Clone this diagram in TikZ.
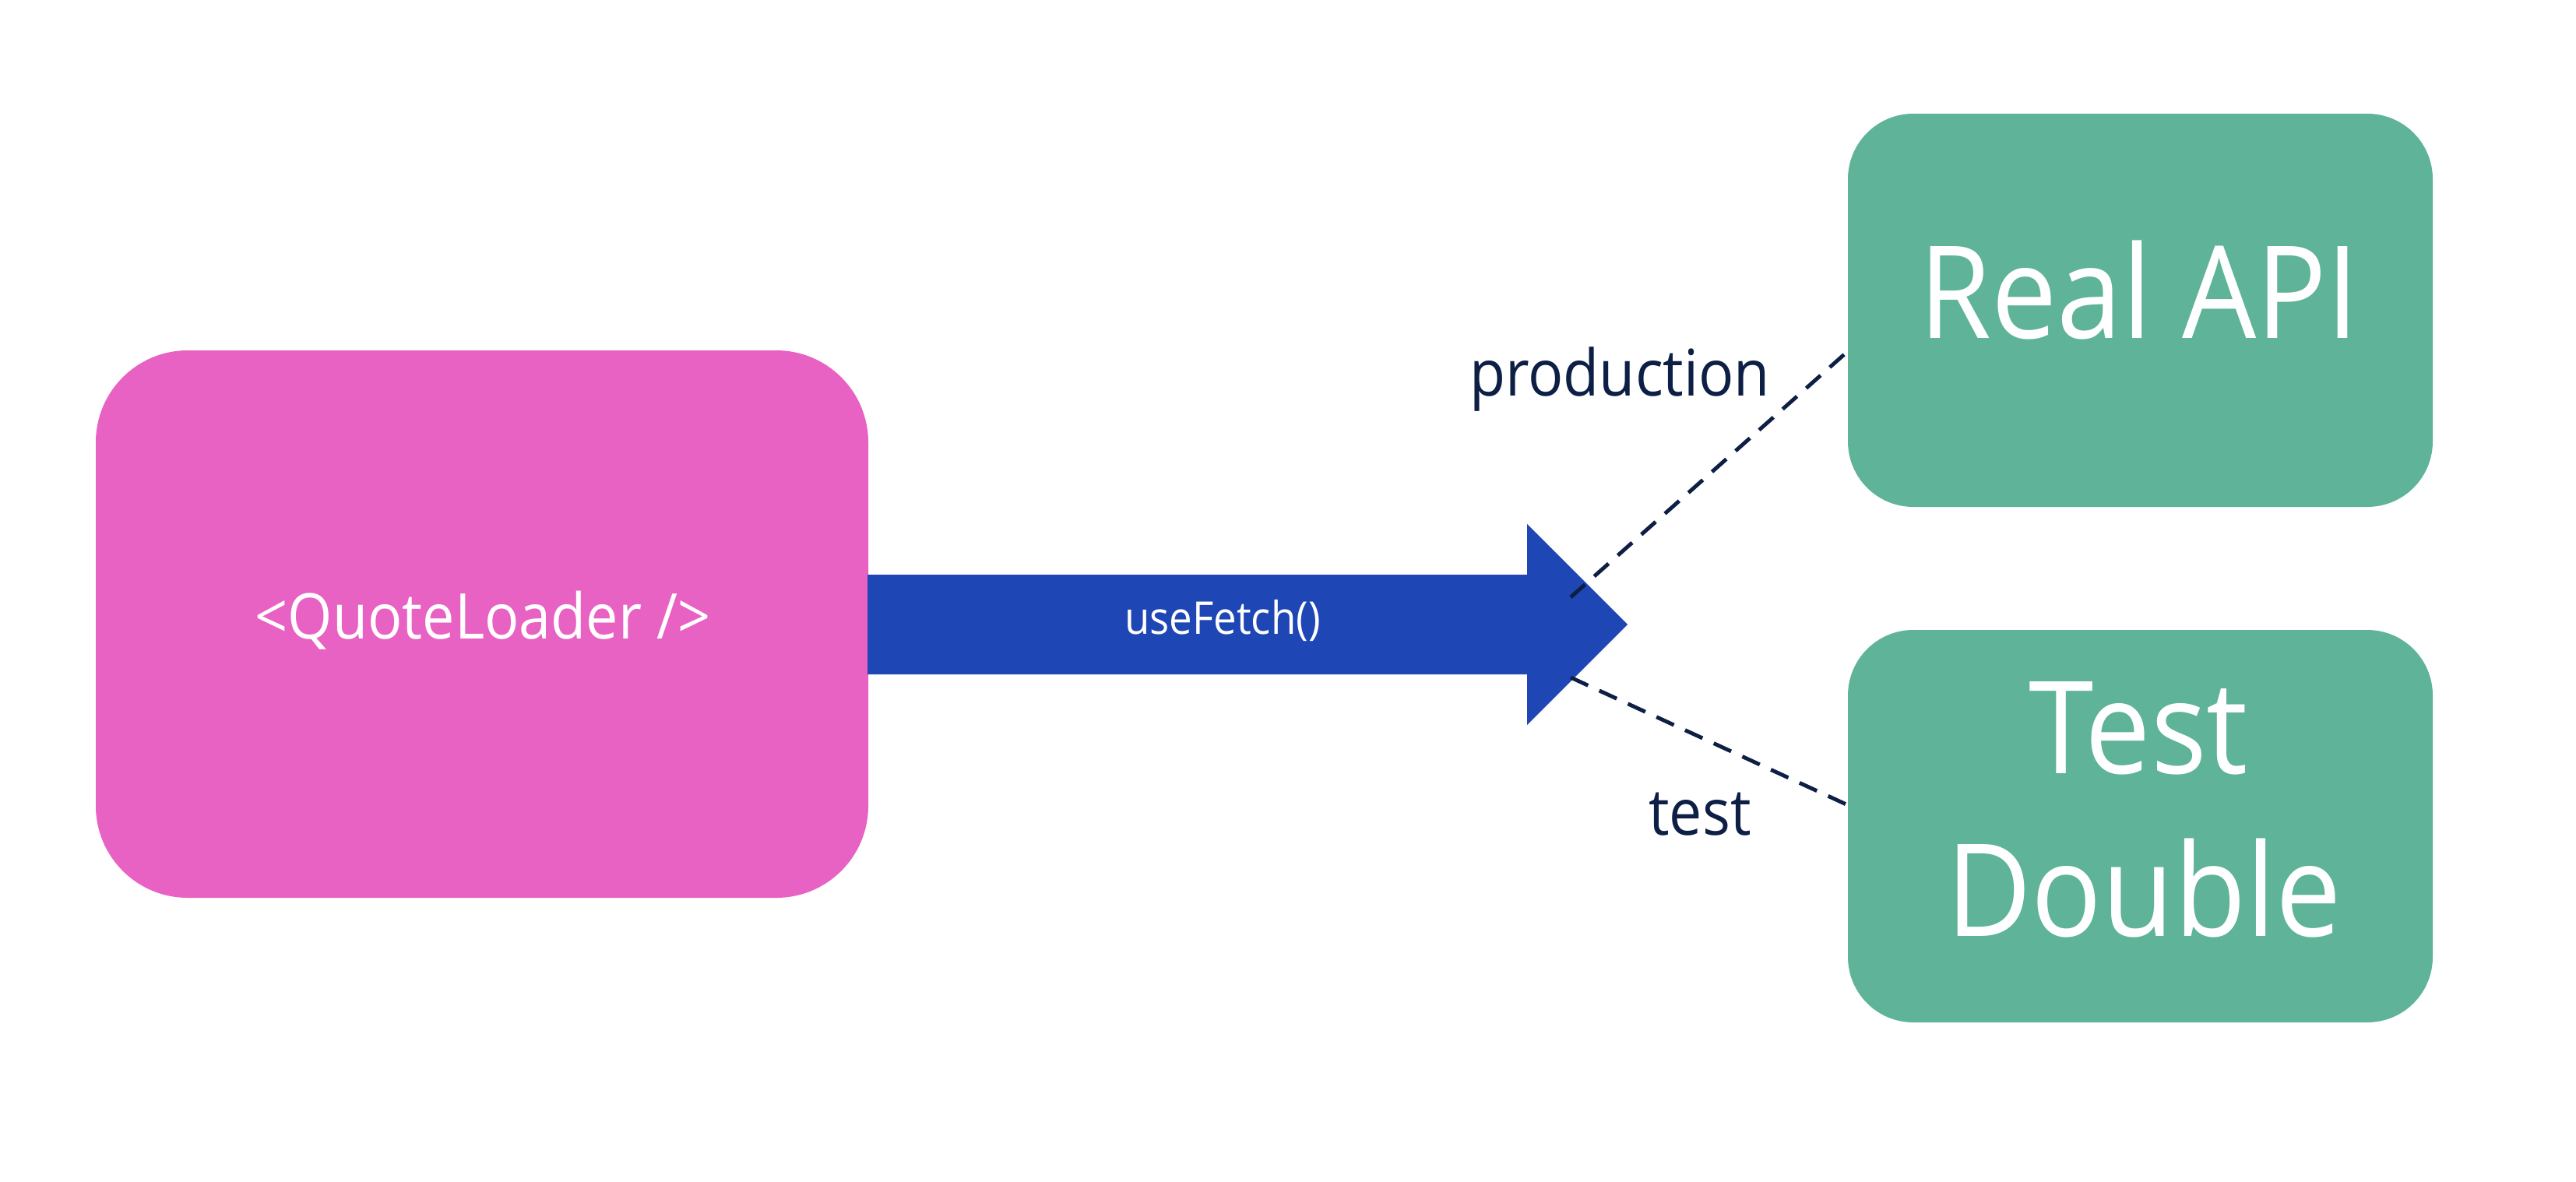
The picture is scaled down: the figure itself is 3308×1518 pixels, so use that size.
\documentclass[tikz,border=0pt]{standalone}
\usepackage{fontspec}
\setmainfont{Open Sans}[FakeStretch=0.91]
\definecolor{pinkbox}{HTML}{E862C3}
\definecolor{greenbox}{HTML}{5EB399}
\definecolor{bluearrow}{HTML}{1E47B5}
\definecolor{navy}{HTML}{0D1F45}
\begin{document}
\begin{tikzpicture}[x=0.01cm,y=-0.01cm,
  box/.style={draw=none,inner sep=0pt},
  lbl/.style={inner sep=0pt,text=navy},
  conn/.style={draw=navy,line width=1.4pt,dash pattern=on 7pt off 4.5pt}]
\useasboundingbox (0,0) rectangle (3308,1518);
% boxes
\fill[pinkbox,rounded corners=1.18cm] (123,450) rectangle (1115,1153);
\node[box] (ql) at (619,801.5) {};
\fill[greenbox,rounded corners=0.84cm] (2373,146) rectangle (3124,651);
\fill[greenbox,rounded corners=0.84cm] (2373,809) rectangle (3124,1313);
\node[box] (api) at (2748.5,398.5) {};
\node[box] (dbl) at (2748.5,1061) {};
% arrow
\fill[bluearrow] (1114,738) -- (1961,738) -- (1961,673) -- (2090,802) -- (1961,931) -- (1961,866) -- (1114,866) -- cycle;
% texts
\node[inner sep=0pt,text=white,anchor=base] (qlt) at (620,820) {\fontsize{23}{28}\selectfont <QuoteLoader />};
\node[inner sep=0pt,text=white,anchor=base] (uf) at (1570,814) {\fontsize{16.5}{20}\selectfont useFetch()};
\node[inner sep=0pt,text=white,anchor=base] (apit) at (2747,434) {\fontsize{47}{56}\selectfont Real API};
\node[inner sep=0pt,text=white,anchor=base] (tt) at (2746,993) {\fontsize{47}{56}\selectfont Test};
\node[inner sep=0pt,text=white,anchor=base] (dt) at (2753,1202) {\fontsize{47}{56}\selectfont Double};
\node[lbl,anchor=base] (prod) at (2080,508) {\fontsize{23.5}{28}\selectfont production};
\node[lbl,anchor=base] (tst) at (2183,1072) {\fontsize{23.5}{28}\selectfont test};
% connectors
\coordinate (s1) at (2017,767);
\coordinate (s2) at (2017,870);
\coordinate (e1) at (2373,451);
\coordinate (e2) at (2373,1034);
\draw[conn] (s1) -- (e1);
\draw[conn] (s2) -- (e2);
\end{tikzpicture}
\end{document}
